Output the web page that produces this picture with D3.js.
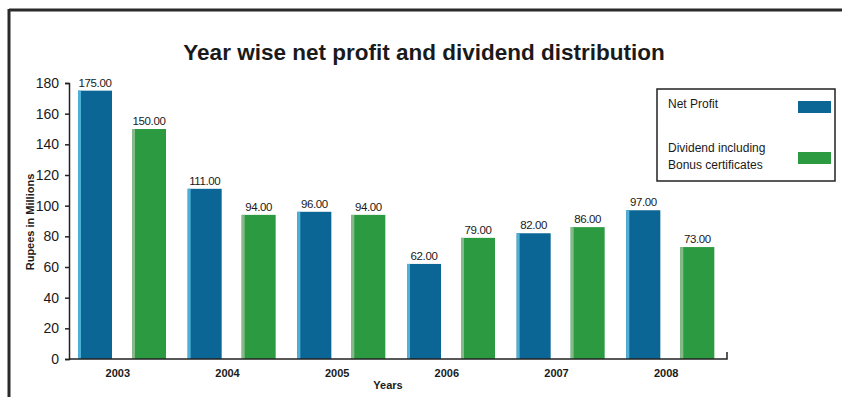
<!DOCTYPE html>
<html>
<head>
<meta charset="utf-8">
<script src="https://cdn.jsdelivr.net/npm/d3@7"></script>
<style>
  html, body { margin: 0; padding: 0; background: #fff; }
  svg { display: block; font-family: "Liberation Sans", Arial, Helvetica, sans-serif; }
</style>
</head>
<body>
<svg id="chart" width="842" height="397"></svg>
<script>
// Figures in Rupees (millions)
const years = ["2003", "2004", "2005", "2006", "2007", "2008"];
const netProfit = [175, 111, 96, 62, 82, 97];
const dividend = [150, 94, 94, 79, 86, 73];
const seriesNames = ["Net Profit", "Dividend including Bonus certificates"];
const yTicks = [0, 20, 40, 60, 80, 100, 120, 140, 160, 180];

const colors = { profit: "#0b6595", dividend: "#2b9a40" };
const edges = { profit: "#4eb0d6", dividend: "#86b98a" };

const svg = d3.select("#chart");

// outer frame (top and left rules)
svg.append("line").attr("x1", 9).attr("x2", 842).attr("y1", 10).attr("y2", 10)
  .attr("stroke", "#2a2a2a").attr("stroke-width", 3);
svg.append("line").attr("x1", 9).attr("x2", 9).attr("y1", 9).attr("y2", 397)
  .attr("stroke", "#2a2a2a").attr("stroke-width", 3);

const plot = { left: 69, right: 727, top: 83, bottom: 359 };

const x = d3.scaleBand().domain(years).range([plot.left, plot.right]).padding(0);
const y = d3.scaleLinear().domain([0, 180]).range([plot.bottom, plot.top]);

// title
svg.append("text").attr("x", 424).attr("y", 60).attr("text-anchor", "middle")
  .attr("font-size", 22.5).attr("font-weight", "bold").attr("fill", "#1a1a1a")
  .text("Year wise net profit and dividend distribution");

// y axis
const yAxis = d3.axisLeft(y).tickValues(yTicks).tickSize(4).tickPadding(6).tickFormat(d3.format("d"));
const gy = svg.append("g").attr("transform", `translate(${plot.left},0)`).call(yAxis);
gy.select(".domain").attr("stroke", "#222").attr("stroke-width", 1.5);
gy.selectAll(".tick line").attr("stroke", "#222").attr("stroke-width", 1.5);
gy.selectAll(".tick text").attr("font-size", 14).attr("fill", "#1a1a1a")
  .attr("font-family", "'Liberation Sans', Arial, sans-serif");

// bars
const barW = 34;
const offsets = { profit: 9, dividend: 63 };
const rows = years.map((yr, i) => ({ year: yr, profit: netProfit[i], dividend: dividend[i] }));

["profit", "dividend"].forEach(key => {
  const g = svg.append("g");
  g.selectAll("rect.bar").data(rows).join("rect").attr("class", "bar")
    .attr("x", d => x(d.year) + offsets[key])
    .attr("y", d => y(d[key]))
    .attr("width", barW)
    .attr("height", d => y(0) - y(d[key]))
    .attr("fill", colors[key]);
  g.selectAll("rect.edge").data(rows).join("rect").attr("class", "edge")
    .attr("x", d => x(d.year) + offsets[key])
    .attr("y", d => y(d[key]))
    .attr("width", 3)
    .attr("height", d => y(0) - y(d[key]))
    .attr("fill", edges[key]);
  g.selectAll("text").data(rows).join("text")
    .attr("x", d => x(d.year) + offsets[key] + barW / 2)
    .attr("y", d => y(d[key]) - 4)
    .attr("text-anchor", "middle")
    .attr("font-size", 11.5).attr("fill", "#1a1a1a")
    .attr("letter-spacing", -0.4)
    .text(d => d3.format(".2f")(d[key]));
});

// x axis
const xAxis = d3.axisBottom(x).tickSize(0).tickPadding(10);
const gx = svg.append("g").attr("transform", `translate(0,${plot.bottom})`).call(xAxis);
gx.select(".domain").attr("stroke", "#222").attr("stroke-width", 1.5)
  .attr("d", `M${plot.left},0H${plot.right}V-7`);
gx.selectAll(".tick text").attr("font-size", 11).attr("font-weight", "bold")
  .attr("fill", "#1a1a1a").attr("dx", -6)
  .attr("font-family", "'Liberation Sans', Arial, sans-serif");

// axis titles
svg.append("text").attr("x", 388).attr("y", 389).attr("text-anchor", "middle")
  .attr("font-size", 11).attr("font-weight", "bold").attr("fill", "#1a1a1a").text("Years");
svg.append("text").attr("transform", "translate(34,222) rotate(-90)").attr("text-anchor", "middle")
  .attr("font-size", 11).attr("font-weight", "bold").attr("fill", "#1a1a1a").text("Rupees in Millions");

// legend
const lg = svg.append("g");
lg.append("rect").attr("x", 657).attr("y", 89).attr("width", 178).attr("height", 92)
  .attr("fill", "#fff").attr("stroke", "#222").attr("stroke-width", 1.5);
const legendItems = [
  { lines: [seriesNames[0]], key: "profit", ty: 108, sy: 101 },
  { lines: ["Dividend including", "Bonus certificates"], key: "dividend", ty: 152, sy: 152 }
];
legendItems.forEach(it => {
  it.lines.forEach((ln, j) => {
    lg.append("text").attr("x", 668).attr("y", it.ty + j * 17)
      .attr("font-size", 12).attr("fill", "#1a1a1a").text(ln);
  });
  lg.append("rect").attr("x", 798).attr("y", it.sy).attr("width", 33).attr("height", 12)
    .attr("fill", colors[it.key]);
});
</script>
</body>
</html>
